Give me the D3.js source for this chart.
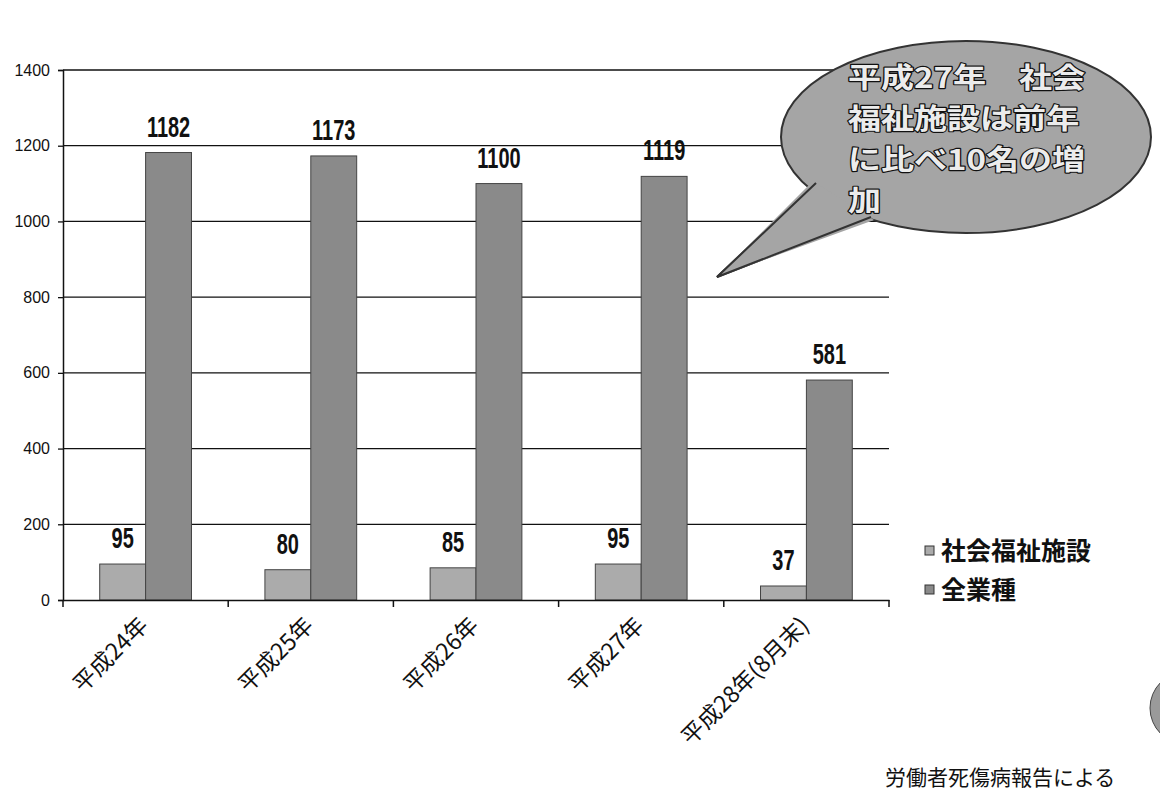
<!DOCTYPE html>
<html><head><meta charset="utf-8">
<script src="https://cdnjs.cloudflare.com/ajax/libs/d3/7.8.5/d3.min.js"></script>
<style>body{margin:0;background:#fff}svg{display:block}</style>
</head><body>
<svg id="c" width="1160" height="798"></svg>
<script>
const categories = ["平成24年","平成25年","平成26年","平成27年","平成28年(8月末)"];
const welfare = [95, 80, 85, 95, 37];
const allIndustries = [1182, 1173, 1100, 1119, 581];
const seriesNames = ["社会福祉施設","全業種"];
const yTicks = [0,200,400,600,800,1000,1200,1400];
const calloutLines = ["平成27年　社会","福祉施設は前年","に比べ10名の増","加"];
const sourceNote = "労働者死傷病報告による";

const svg = d3.select("#c");
const L = 63, R = 889, T = 70, B = 600;
const x = d3.scaleBand().domain(categories).range([L, R]).paddingInner(0).paddingOuter(0);
const x1 = d3.scaleBand().domain(seriesNames).range([0, x.bandwidth()]).paddingInner(0).paddingOuter(0.8);
const y = d3.scaleLinear().domain([0, 1400]).range([B, T]);
const colors = ["#ababab", "#8a8a8a"];

// gridlines
svg.append("g").selectAll("line").data(yTicks.filter(d => d > 0)).join("line")
  .attr("x1", L).attr("x2", R).attr("y1", d => y(d)).attr("y2", d => y(d))
  .attr("stroke", "#111").attr("stroke-width", 1.3);

// bars
const data = categories.map((c, i) => ({c, vals: [welfare[i], allIndustries[i]]}));
const g = svg.append("g").selectAll("g").data(data).join("g")
  .attr("transform", d => `translate(${x(d.c)},0)`);
g.selectAll("rect").data(d => d.vals.map((v, k) => ({v, k}))).join("rect")
  .attr("x", d => x1(seriesNames[d.k])).attr("width", x1.bandwidth())
  .attr("y", d => y(d.v)).attr("height", d => y(0) - y(d.v))
  .attr("fill", d => colors[d.k]).attr("stroke", "#444").attr("stroke-width", 1);
g.selectAll("text").data(d => d.vals.map((v, k) => ({v, k}))).join("text")
  .attr("transform", d => `translate(${x1(seriesNames[d.k]) + x1.bandwidth() / 2},${y(d.v) - 16}) scale(0.74,1.08)`)
  .attr("text-anchor", "middle")
  .attr("font-family", "'Liberation Sans', Arial, sans-serif")
  .attr("font-weight", "bold").attr("font-size", 27).attr("fill", "#111")
  .text(d => d.v);

// y axis
const yAxis = svg.append("g").attr("transform", `translate(${L},0)`)
  .call(d3.axisLeft(y).tickValues(yTicks).tickFormat(d3.format("d")).tickSize(5).tickPadding(8));
yAxis.select(".domain").attr("stroke", "#111").attr("stroke-width", 1.5);
yAxis.selectAll(".tick line").attr("stroke", "#111").attr("stroke-width", 1.3);
yAxis.selectAll("text").attr("font-family", "Arial, 'Liberation Sans', sans-serif")
  .attr("font-size", 16).attr("fill", "#111");

// x axis
const xAxis = svg.append("g").attr("transform", `translate(0,${B})`)
  .call(d3.axisBottom(x).tickSize(0).tickFormat(""));
xAxis.select(".domain").attr("stroke", "#111").attr("stroke-width", 1.5);
svg.append("g").selectAll("line").data(d3.range(categories.length + 1)).join("line")
  .attr("x1", i => L + i * x.step()).attr("x2", i => L + i * x.step())
  .attr("y1", B).attr("y2", B + 7).attr("stroke", "#111").attr("stroke-width", 1.5);
svg.append("g").selectAll("text").data(categories).join("text")
  .attr("transform", d => `translate(${x(d) + x.bandwidth() / 2 + 4},${B + 27}) rotate(-45)`)
  .attr("text-anchor", "end")
  .attr("font-family", "'Noto Sans CJK JP', sans-serif")
  .attr("font-size", 23).attr("fill", "#111")
  .text(d => d);

// legend
const lg = svg.append("g").attr("transform", "translate(925,540)");
seriesNames.forEach((s, i) => {
  lg.append("rect").attr("x", 0).attr("y", i * 39 + 6).attr("width", 9).attr("height", 9)
    .attr("fill", colors[i]).attr("stroke", "#333");
  lg.append("text").attr("x", 16).attr("y", i * 39 + 20)
    .attr("font-family", "'Noto Sans CJK JP', sans-serif").attr("font-weight", "bold")
    .attr("font-size", 25).attr("fill", "#111").text(s);
});

// source note
svg.append("text").attr("x", 885).attr("y", 785)
  .attr("font-family", "'Noto Sans CJK JP', sans-serif").attr("font-size", 21)
  .attr("fill", "#111").text(sourceNote);

// callout
const cx = 966, cy = 137, rx = 185, ry = 96;
svg.append("path")
  .attr("d", `M${cx - 150},${cy + 46} L717,277 L${cx - 95},${cy + 80} Z`)
  .attr("fill", "#a5a5a5").attr("stroke", "#333").attr("stroke-width", 2);
svg.append("ellipse").attr("cx", cx).attr("cy", cy).attr("rx", rx).attr("ry", ry)
  .attr("fill", "#a5a5a5").attr("stroke", "#333").attr("stroke-width", 2);
svg.append("path")
  .attr("d", `M${cx - 153},${cy + 44} L717,277 L${cx - 92},${cy + 83}`)
  .attr("fill", "#a5a5a5").attr("stroke", "none");
svg.append("path")
  .attr("d", `M${cx - 150},${cy + 46} L717,277 L${cx - 95},${cy + 80}`)
  .attr("fill", "none").attr("stroke", "#333").attr("stroke-width", 2);
svg.append("g").selectAll("text").data(calloutLines).join("text")
  .attr("transform", (d, i) => `translate(848,${88 + i * 41}) scale(1.18,1)`)
  .attr("font-family", "'Noto Sans CJK JP', sans-serif").attr("font-weight", "bold")
  .attr("font-size", 28).attr("fill", "#ececec").attr("stroke", "#111")
  .attr("stroke-width", 2.3).attr("paint-order", "stroke").attr("stroke-linejoin", "round")
  .text(d => d);

// partial circle at right edge
svg.append("circle").attr("cx", 1186).attr("cy", 708).attr("r", 36)
  .attr("fill", "#9a9a9a").attr("stroke", "#444");
</script>
</body></html>
